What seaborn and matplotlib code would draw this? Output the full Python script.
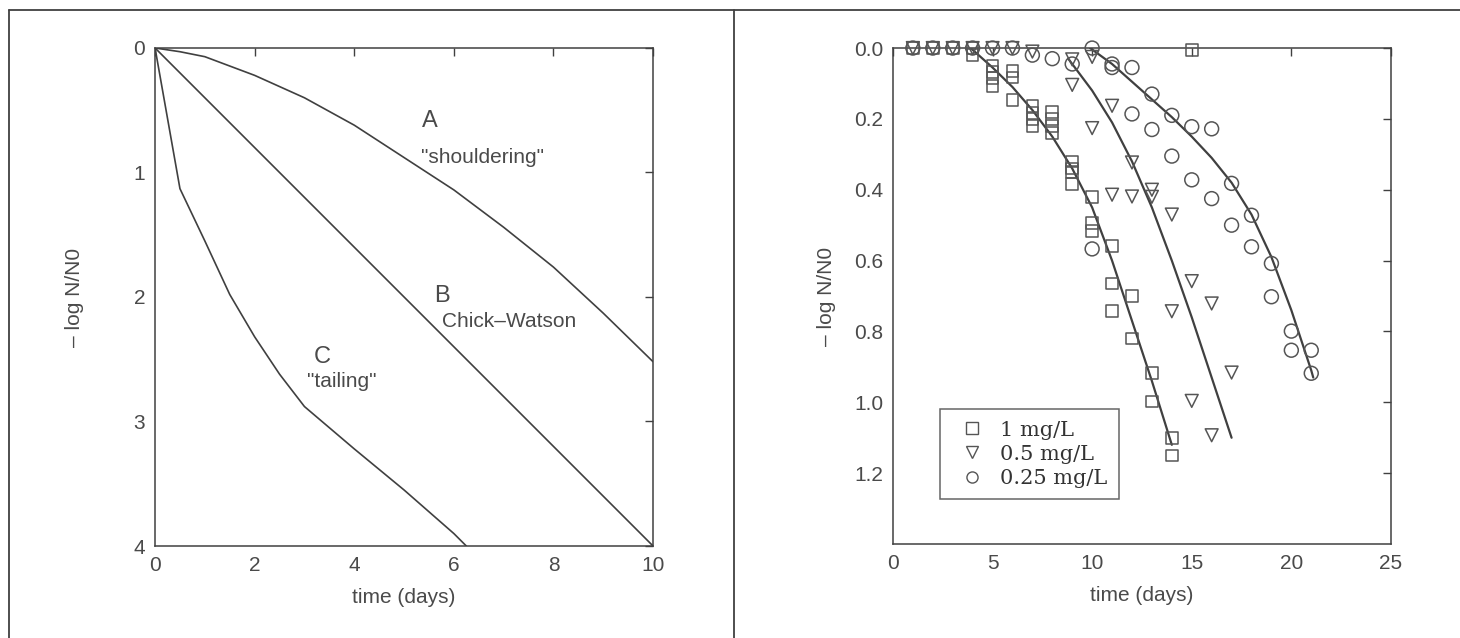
import matplotlib
matplotlib.use("Agg")
import matplotlib.pyplot as plt
from matplotlib.lines import Line2D
import seaborn as sns
import pandas as pd

# left panel: idealised inactivation curves
a_t = [0, 0.5, 1, 2, 3, 4, 5, 6, 7, 8, 9, 10]
a_y = [0, 0.03, 0.07, 0.22, 0.40, 0.62, 0.88, 1.14, 1.44, 1.76, 2.13, 2.52]
b_t = [0, 2, 4, 6, 8, 10]
b_y = [0, 0.8, 1.6, 2.4, 3.2, 4.0]
c_t = [0, 0.5, 1, 1.5, 2, 2.5, 3, 4, 5, 6, 6.25]
c_y = [0, 1.13, 1.55, 1.98, 2.32, 2.62, 2.88, 3.22, 3.55, 3.9, 4.0]

# right panel: measured points
sq_day = [1, 2, 3, 4, 4, 5, 5, 5, 5, 6, 6, 6, 7, 7, 7, 7, 8, 8, 8, 8,
          9, 9, 9, 9, 10, 10, 10, 11, 11, 11, 12, 12, 13, 13, 14, 14, 15]
sq_val = [0, 0, 0, 0, 0.02, 0.05, 0.067, 0.085, 0.107, 0.064, 0.083, 0.146,
          0.163, 0.183, 0.20, 0.22, 0.18, 0.20, 0.22, 0.24,
          0.32, 0.34, 0.35, 0.384, 0.42, 0.494, 0.517, 0.558, 0.665, 0.743,
          0.70, 0.82, 0.918, 0.998, 1.10, 1.15, 0.005]
tri_day = [1, 2, 3, 4, 5, 6, 7, 9, 9, 10, 10, 11, 11, 12, 12, 13, 13,
           14, 14, 15, 15, 16, 16, 17]
tri_val = [0, 0, 0, 0, 0, 0, 0.01, 0.032, 0.104, 0.025, 0.226, 0.163, 0.414,
           0.323, 0.419, 0.40, 0.42, 0.47, 0.743, 0.658, 0.996, 0.721, 1.093, 0.916]
cir_day = [1, 2, 3, 4, 5, 6, 7, 8, 9, 10, 10, 11, 11, 12, 12, 13, 13,
           14, 14, 15, 15, 16, 16, 17, 17, 18, 18, 19, 19, 20, 20, 21, 21]
cir_val = [0, 0, 0, 0, 0, 0, 0.02, 0.03, 0.045, 0.0, 0.567, 0.045, 0.055,
           0.055, 0.186, 0.13, 0.23, 0.19, 0.305, 0.222, 0.372, 0.228, 0.425,
           0.382, 0.50, 0.472, 0.561, 0.608, 0.702, 0.799, 0.853, 0.853, 0.918]

# right panel: fitted curves
f1_t = [3.9, 5, 6, 7, 8, 9, 10, 11, 12, 13, 14]
f1_y = [0, 0.055, 0.11, 0.175, 0.25, 0.34, 0.45, 0.60, 0.77, 0.94, 1.12]
f2_t = [8.8, 9, 10, 11, 12, 13, 14, 15, 16, 17]
f2_y = [0.03, 0.045, 0.12, 0.21, 0.32, 0.45, 0.60, 0.76, 0.93, 1.10]
f3_t = [9.9, 11, 12, 13, 14, 15, 16, 17, 18, 19, 20, 21, 21.1]
f3_y = [0.0, 0.045, 0.095, 0.145, 0.195, 0.25, 0.31, 0.38, 0.47, 0.59, 0.74, 0.91, 0.93]

labels = ["1 mg/L", "0.5 mg/L", "0.25 mg/L"]

sns.set_style("white")
plt.rcParams["font.family"] = ["Liberation Sans", "DejaVu Sans"]
ink = "#404040"
txt = "#4a4a4a"
fs = 15

fig = plt.figure(figsize=(14.6, 6.38), dpi=100)
axL = fig.add_axes([0.1062, 0.1442, 0.3411, 0.7806])
axR = fig.add_axes([0.6116, 0.1473, 0.3411, 0.7774])

for ax in (axL, axR):
    for s in ax.spines.values():
        s.set_color(ink)
        s.set_linewidth(1.1)
    ax.tick_params(direction="in", length=6, width=1.0, color=ink,
                   top=True, right=True, labelsize=fs, labelcolor=txt, pad=7)

# left panel
for t, y in [(a_t, a_y), (b_t, b_y), (c_t, c_y)]:
    sns.lineplot(x=t, y=y, ax=axL, color=ink, lw=1.2, estimator=None, sort=False)
axL.set_xlim(0, 10)
axL.set_ylim(4, 0)
axL.set_xticks([0, 2, 4, 6, 8, 10])
axL.set_yticks([0, 1, 2, 3, 4])
axL.text(5.52, 0.59, "A", fontsize=17, color=txt, ha="center", va="center")
axL.text(5.34, 0.88, '"shouldering"', fontsize=fs, color=txt, ha="left", va="center")
axL.text(5.76, 1.99, "B", fontsize=17, color=txt, ha="center", va="center")
axL.text(5.76, 2.2, "Chick\u2013Watson", fontsize=fs, color=txt, ha="left", va="center")
axL.text(3.36, 2.48, "C", fontsize=17, color=txt, ha="center", va="center")
axL.text(3.05, 2.68, '"tailing"', fontsize=fs, color=txt, ha="left", va="center")

# right panel
pts = pd.concat([
    pd.DataFrame({"day": sq_day, "val": sq_val, "dose": labels[0]}),
    pd.DataFrame({"day": tri_day, "val": tri_val, "dose": labels[1]}),
    pd.DataFrame({"day": cir_day, "val": cir_val, "dose": labels[2]}),
])
marks = {labels[0]: "s", labels[1]: "v", labels[2]: "o"}
sizes = {labels[0]: 70, labels[1]: 85, labels[2]: 100}
for d in labels:
    sub = pts[pts["dose"] == d]
    axR.scatter(sub["day"], sub["val"], marker=marks[d], s=sizes[d],
                facecolors="none", edgecolors="#555555", linewidths=1.1, zorder=3,
                clip_on=False)
for t, y in [(f1_t, f1_y), (f2_t, f2_y), (f3_t, f3_y)]:
    sns.lineplot(x=t, y=y, ax=axR, color=ink, lw=1.6, estimator=None, sort=False)
axR.set_xlim(0, 25)
axR.set_ylim(1.4, 0)
axR.set_xticks([0, 5, 10, 15, 20, 25])
axR.set_yticks([0.0, 0.2, 0.4, 0.6, 0.8, 1.0, 1.2])
axR.set_yticklabels([f"{v:.1f}" for v in [0.0, 0.2, 0.4, 0.6, 0.8, 1.0, 1.2]])

handles = [Line2D([], [], ls="", marker=marks[d], mfc="none", mec="#555555",
                  ms=8, mew=1.0) for d in labels]
leg = axR.legend(handles, labels, loc="upper left", bbox_to_anchor=(0.094, 0.272),
                 frameon=True, fancybox=False, borderpad=0.55, borderaxespad=0,
                 handlelength=2.0, handletextpad=0.35, labelspacing=0.25,
                 prop={"family": "DejaVu Serif", "size": 15})
leg.get_frame().set_edgecolor(ink)
leg.get_frame().set_linewidth(1.1)
for tx in leg.get_texts():
    tx.set_color("#333333")

for ax, lx in ((axL, -0.143), (axR, -0.115)):
    ax.set_xlabel("time (days)", fontsize=fs, color=txt)
    ax.set_ylabel("\u2013 log N/N0", fontsize=fs, color=txt)
    ax.xaxis.set_label_coords(0.5, -0.085)
    ax.yaxis.set_label_coords(lx, 0.5)

# frame lines of the figure
top = 1 - 10 / 638
fig.add_artist(Line2D([9 / 1460, 1], [top, top], transform=fig.transFigure, color=ink, lw=1.3))
fig.add_artist(Line2D([9 / 1460, 9 / 1460], [0, top], transform=fig.transFigure, color=ink, lw=1.3))
fig.add_artist(Line2D([734 / 1460, 734 / 1460], [0, top], transform=fig.transFigure, color=ink, lw=1.3))

fig.savefig("out.png", dpi=100, facecolor="white")
